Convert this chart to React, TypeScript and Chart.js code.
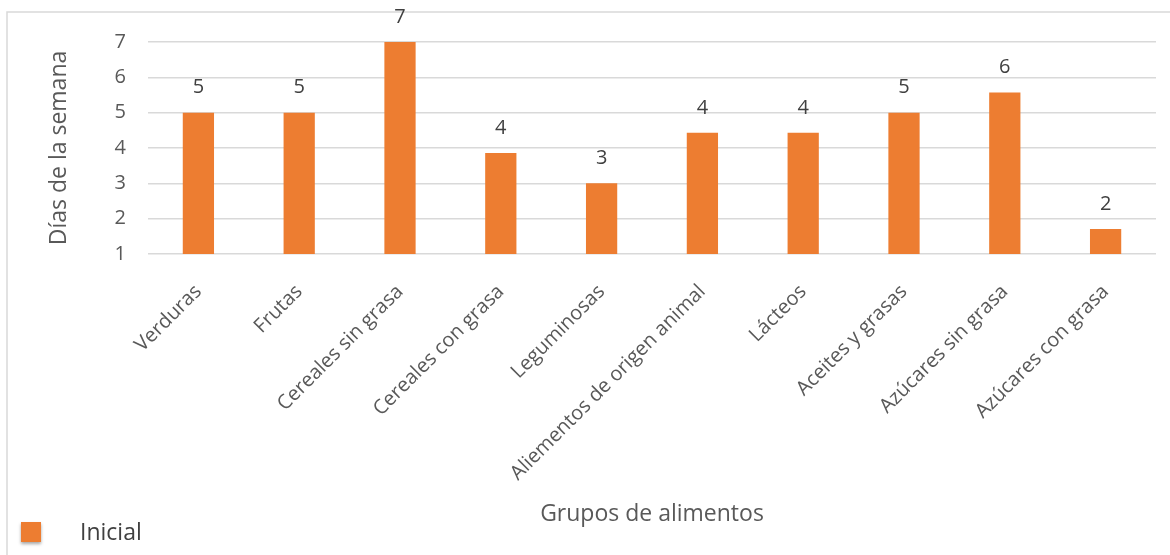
import { useEffect, useRef } from "react";
import { Chart, registerables } from "chart.js";

Chart.register(...registerables);

const categories = [
  "Verduras",
  "Frutas",
  "Cereales sin grasa",
  "Cereales con grasa",
  "Leguminosas",
  "Aliementos de origen animal",
  "Lácteos",
  "Aceites y grasas",
  "Azúcares sin grasa",
  "Azúcares con grasa",
];
const values = [5, 5, 7, 3.86, 3, 4.43, 4.43, 5, 5.57, 1.71];
const seriesName = "Inicial";
const yAxisTitle = "Días de la semana";
const xAxisTitle = "Grupos de alimentos";
const yMin = 1;
const yMax = 7;

const FONT = "'Open Sans', 'DejaVu Sans', sans-serif";
const BAR = "#ED7D31";

const framePlugin = {
  id: "frame",
  beforeDraw(chart: any) {
    const ctx = chart.ctx;
    ctx.save();
    ctx.fillStyle = "#ffffff";
    ctx.fillRect(0, 0, chart.width, chart.height);
    ctx.strokeStyle = "#d9d9d9";
    ctx.lineWidth = 1.5;
    ctx.strokeRect(7, 12, chart.width + 20, chart.height + 20);
    ctx.restore();
  },
};

const dataLabelPlugin = {
  id: "dataLabels",
  afterDatasetsDraw(chart: any) {
    const ctx = chart.ctx;
    ctx.save();
    ctx.font = `20px ${FONT}`;
    ctx.fillStyle = "#404040";
    ctx.textAlign = "center";
    ctx.textBaseline = "middle";
    chart.data.datasets.forEach((ds: any, di: number) => {
      const meta = chart.getDatasetMeta(di);
      meta.data.forEach((el: any, i: number) => {
        ctx.fillText(String(Math.round(ds.data[i])), el.x, el.y - 25);
      });
    });
    ctx.restore();
  },
};

const legendPlugin = {
  id: "customLegend",
  afterDraw(chart: any) {
    const ctx = chart.ctx;
    const ds = chart.data.datasets[0];
    ctx.save();
    ctx.shadowColor = "rgba(0,0,0,0.35)";
    ctx.shadowBlur = 3;
    ctx.shadowOffsetY = 2;
    ctx.fillStyle = ds.backgroundColor;
    ctx.fillRect(21, 522, 20, 20);
    ctx.restore();
    ctx.save();
    ctx.font = `23px ${FONT}`;
    ctx.fillStyle = "#404040";
    ctx.textAlign = "left";
    ctx.textBaseline = "middle";
    ctx.fillText(ds.label, 80, 533);
    ctx.restore();
  },
};

export default function App() {
  const ref = useRef<HTMLCanvasElement | null>(null);

  useEffect(() => {
    if (!ref.current) return;
    const chart = new Chart(ref.current, {
      type: "bar",
      data: {
        labels: categories,
        datasets: [
          {
            label: seriesName,
            data: values,
            backgroundColor: BAR,
            borderWidth: 0,
            barPercentage: 0.31,
            categoryPercentage: 1,
          },
        ],
      },
      options: {
        animation: false,
        responsive: false,
        devicePixelRatio: 1,
        layout: { padding: { left: 46, top: 42, right: 14, bottom: 27 } },
        plugins: {
          legend: { display: false },
          tooltip: { enabled: false },
        },
        scales: {
          x: {
            grid: { display: false, drawTicks: false },
            border: { display: false },
            ticks: {
              color: "#595959",
              font: { family: FONT, size: 20 },
              maxRotation: 45,
              minRotation: 45,
              padding: 26,
              autoSkip: false,
            },
            title: {
              display: true,
              text: xAxisTitle,
              color: "#595959",
              font: { family: FONT, size: 23 },
              padding: 0,
            },
            afterFit(scale: any) {
              scale.height = 274;
            },
          },
          y: {
            min: yMin,
            max: yMax,
            ticks: {
              stepSize: 1,
              color: "#595959",
              font: { family: FONT, size: 20 },
              padding: 22,
            },
            grid: { color: "#d9d9d9", lineWidth: 1.5, drawTicks: false },
            border: { display: false },
            title: {
              display: true,
              text: yAxisTitle,
              color: "#595959",
              font: { family: FONT, size: 23 },
              padding: 0,
            },
            afterFit(scale: any) {
              scale.width = 102;
            },
          },
        },
      },
      plugins: [framePlugin, dataLabelPlugin, legendPlugin],
    });
    return () => chart.destroy();
  }, []);

  return (
    <div style={{ position: "fixed", left: 0, top: 0, width: 1170, height: 555, background: "#fff", overflow: "hidden" }}>
      <canvas ref={ref} width={1170} height={555} style={{ display: "block" }} />
    </div>
  );
}
